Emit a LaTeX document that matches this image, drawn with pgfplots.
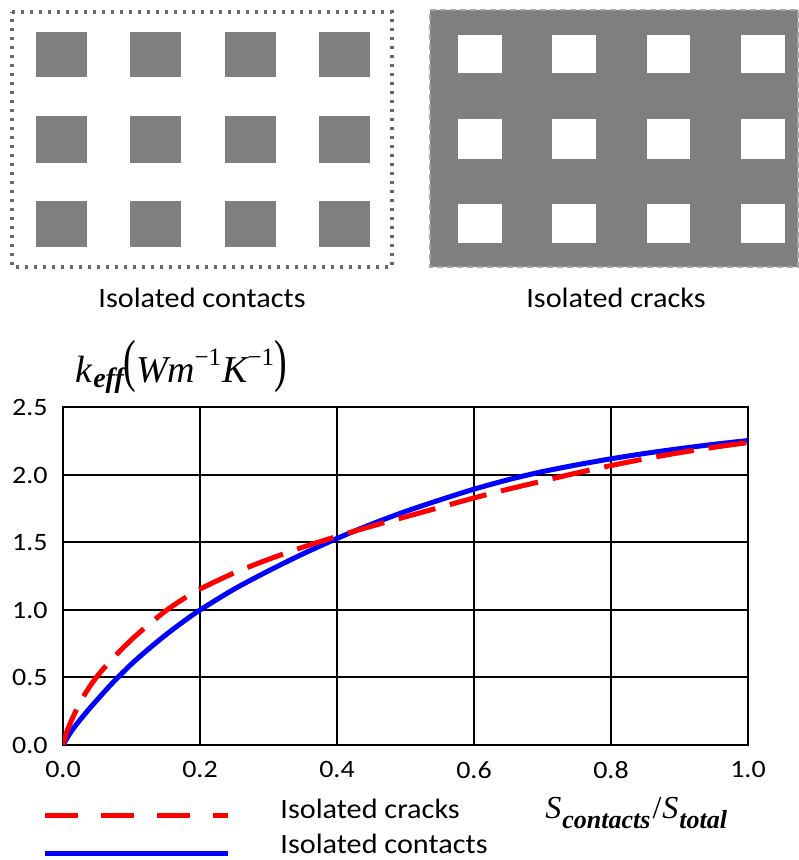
\documentclass[border=0pt]{standalone}
\usepackage{fontspec}
\setmainfont{Carlito}[FakeStretch=1.12]
\newfontfamily\lab{Carlito}[FakeStretch=1.08]
\newfontfamily\tnr{Liberation Serif}
\usepackage{pgfplots}
\pgfplotsset{compat=1.18}
\definecolor{sq}{RGB}{127,127,127}
\definecolor{dotc}{RGB}{105,105,105}
\newcommand\lsq[4]{\addplot[fill=sq, draw=none] coordinates {(#1,#2) (#3,#2) (#3,#4) (#1,#4)};}
\newcommand\wsq[4]{\addplot[fill=white, draw=none] coordinates {(#1,#2) (#3,#2) (#3,#4) (#1,#4)};}
\begin{document}
\begin{tikzpicture}[x=1pt,y=1pt]
\useasboundingbox (0,0) rectangle (399,430);
% ---------- overlay axis in pixel units (0..798 x 0..860, y down) ----------
\begin{axis}[name=ov, at={(0pt,0pt)}, anchor=south west, scale only axis,
  width=399pt, height=430pt, xmin=0, xmax=798, ymin=0, ymax=860,
  y dir=reverse, hide axis, clip=false]
% left box: isolated contacts
\addplot[draw=dotc, line width=1.6pt, dash pattern=on 1.6pt off 2.9pt] coordinates {(12,12) (392,12) (392,267) (12,267) (12,12)};
\lsq{36}{32}{87}{77}\lsq{130}{32}{181}{77}\lsq{225}{32}{276}{77}\lsq{319}{32}{370}{77}
\lsq{36}{116}{87}{163}\lsq{130}{116}{181}{163}\lsq{225}{116}{276}{163}\lsq{319}{116}{370}{163}
\lsq{36}{201}{87}{247}\lsq{130}{201}{181}{247}\lsq{225}{201}{276}{247}\lsq{319}{201}{370}{247}
% right box: isolated cracks
\addplot[fill=sq, draw=sq!70, line width=1pt, dash pattern=on 3pt off 2pt] coordinates {(430,10) (798,10) (798,267) (430,267) (430,10)};
\wsq{458}{35}{502}{73}\wsq{552}{35}{596}{73}\wsq{647}{35}{690}{73}\wsq{741}{35}{785}{73}
\wsq{458}{119}{502}{159}\wsq{552}{119}{596}{159}\wsq{647}{119}{690}{159}\wsq{741}{119}{785}{159}
\wsq{458}{204}{502}{243}\wsq{552}{204}{596}{243}\wsq{647}{204}{690}{243}\wsq{741}{204}{785}{243}
% legend lines
\addplot[red, line width=2.5pt, dash pattern=on 16.5pt off 11.5pt] coordinates {(45,815) (228,815)};
\addplot[blue, line width=2.5pt] coordinates {(45,853) (228,853)};
% texts
\node[anchor=base, inner sep=0pt] at (axis cs:202,308) {\lab\fontsize{14}{16}\selectfont Isolated contacts};
\node[anchor=base, inner sep=0pt] at (axis cs:616,308) {\lab\fontsize{14}{16}\selectfont Isolated cracks};
\node[anchor=base west, inner sep=0pt] at (axis cs:280,818) {\lab\fontsize{14}{16}\selectfont Isolated cracks};
\node[anchor=base west, inner sep=0pt] at (axis cs:280,853) {\lab\fontsize{14}{16}\selectfont Isolated contacts};
\node[anchor=base west, inner sep=0pt] at (axis cs:75,382) {\tnr\fontsize{19}{22}\selectfont\itshape k\kern0.5pt\raisebox{-3pt}{\fontsize{14}{16}\selectfont\bfseries eff}\raisebox{0.5pt}{\scalebox{1}[1.53]{\upshape(}}W\kern-0.5pt m\raisebox{8pt}{\upshape\fontsize{12.5}{14}\selectfont −1}\kern0.5pt K\raisebox{8pt}{\upshape\fontsize{12.5}{14}\selectfont −1}\raisebox{0.5pt}{\scalebox{1}[1.53]{\upshape)}}};
\node[anchor=base west, inner sep=0pt] at (axis cs:545,818) {\tnr\fontsize{16}{18}\selectfont\itshape S\kern0.5pt\raisebox{-5pt}{\fontsize{13}{15}\selectfont\bfseries contacts}\kern1pt\upshape/\kern0.5pt\itshape S\kern0.5pt\raisebox{-5pt}{\fontsize{13}{15}\selectfont\bfseries total}};
\end{axis}
% ---------- main chart ----------
\begin{axis}[at={(31.5pt,57.5pt)}, anchor=south west, scale only axis,
  width=342.5pt, height=168.75pt,
  xmin=0, xmax=1, ymin=0, ymax=2.5,
  xtick={0,0.2,0.4,0.6,0.8,1.0}, ytick={0,0.5,1,1.5,2,2.5},
  grid=major, major grid style={black, line width=1pt},
  axis line style={black, line width=1pt},
  major tick length=0pt,
  tick label style={font=\fontsize{12.5}{14}\selectfont, inner sep=0pt},
  /pgf/number format/assume math mode=true,
  /pgf/number format/fixed, /pgf/number format/fixed zerofill, /pgf/number format/precision=1,
  xticklabel style={yshift=-8pt},
  yticklabel style={xshift=-7.5pt}]
\addplot[blue, line width=2.5pt, smooth] coordinates {
(0,0) (0.01,0.085) (0.02,0.155) (0.037,0.26) (0.05,0.335) (0.065,0.42) (0.078,0.49) (0.1,0.6) (0.12,0.69) (0.14,0.775) (0.16,0.855) (0.18,0.93) (0.2,1.0) (0.25,1.155) (0.3,1.29) (0.35,1.415) (0.4,1.53) (0.45,1.635) (0.5,1.73) (0.55,1.815) (0.6,1.895) (0.65,1.965) (0.7,2.025) (0.75,2.075) (0.8,2.12) (0.85,2.16) (0.9,2.195) (0.95,2.227) (1.0,2.255)};
\addplot[red, line width=2.5pt, smooth, dash pattern=on 19pt off 7.5pt] coordinates {
(0,0) (0.005,0.09) (0.01,0.155) (0.02,0.265) (0.03,0.36) (0.04,0.44) (0.05,0.51) (0.06,0.57) (0.08,0.68) (0.1,0.78) (0.12,0.87) (0.149,0.99) (0.175,1.08) (0.2,1.155) (0.25,1.275) (0.3,1.375) (0.35,1.465) (0.4,1.545) (0.45,1.62) (0.5,1.69) (0.55,1.76) (0.6,1.83) (0.65,1.895) (0.7,1.955) (0.75,2.015) (0.8,2.07) (0.85,2.12) (0.9,2.165) (0.95,2.205) (1.0,2.24)};
\end{axis}
\end{tikzpicture}
\end{document}
